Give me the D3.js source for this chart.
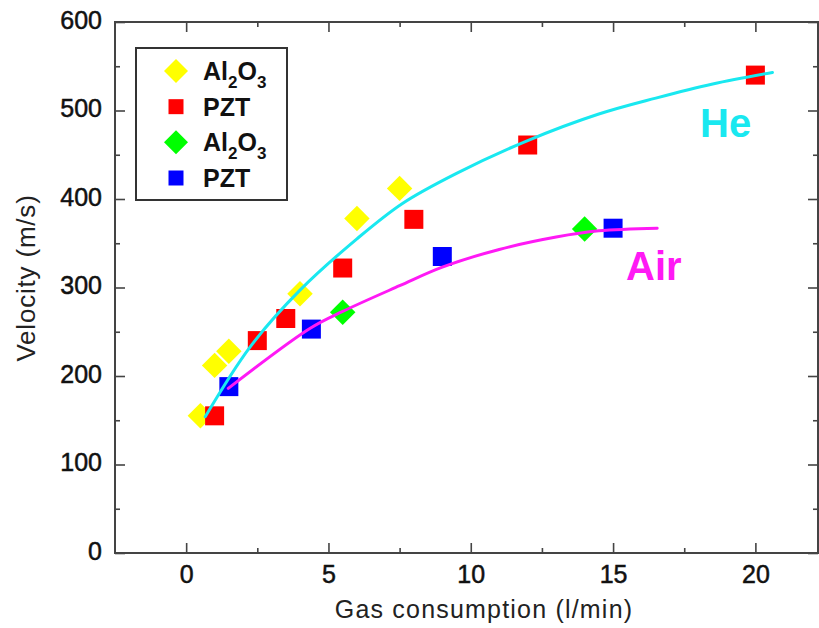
<!DOCTYPE html>
<html>
<head>
<meta charset="utf-8">
<script src="https://cdn.jsdelivr.net/npm/d3@7"></script>
<style>
  body { margin: 0; background: #fff; }
  text { font-family: "Liberation Sans", Arial, Helvetica, sans-serif; }
</style>
</head>
<body>
<svg id="chart"></svg>
<script>
// measured points [gas consumption l/min, velocity m/s]
var al2o3He = [[0.5, 155], [1, 212], [1.5, 228], [4, 293], [6, 378], [7.5, 412]];
var pztHe = [[1, 155], [2.5, 240], [3.5, 265], [5.5, 322], [8, 377], [12, 461], [20, 540]];
var al2o3Air = [[5.5, 272], [14, 366]];
var pztAir = [[1.5, 188], [4.4, 253], [9, 335], [15, 367]];

// fitted curves
var heFit = [[0.67, 154], [2.25, 233], [4, 297], [6, 355], [7.6, 395], [9.5, 429], [12, 466], [14.5, 496], [16.5, 514], [18.5, 530], [20.6, 543]];
var airFit = [[1.48, 186], [4.36, 254], [5.5, 273], [7.5, 302], [9, 323], [11, 343], [13, 357], [14.5, 364], [16.55, 367]];

var xTicks = [0, 5, 10, 15, 20];
var xMinor = [2.5, 7.5, 12.5, 17.5];
var yTicks = [0, 100, 200, 300, 400, 500, 600];
var yMinor = [50, 150, 250, 350, 450, 550];

var legendLabels = ["Al2O3", "PZT", "Al2O3", "PZT"];
var legendColors = ["#ffff00", "#ff0000", "#00ff00", "#0000ff"];
var legendShapes = ["diamond", "square", "diamond", "square"];

var svgWidth = 819, svgHeight = 628;
var plotLeft = 115, plotRight = 818, plotTop = 22, plotBottom = 553;

var svg = d3.select("#chart")
    .attr("width", svgWidth)
    .attr("height", svgHeight);

var x = d3.scaleLinear().domain([-2.5, 22.2]).range([plotLeft, plotRight]);
var y = d3.scaleLinear().domain([0, 600]).range([plotBottom, plotTop]);

var axisColor = "#444";

function styleAxis(g) {
    g.select(".domain").remove();
    g.selectAll(".tick line").attr("stroke", axisColor).attr("stroke-width", 1.6);
}

function styleLabels(sel) {
    sel.attr("font-size", 25)
        .attr("font-family", "Liberation Sans, Arial, sans-serif")
        .attr("fill", "#111")
        .attr("stroke", "#111")
        .attr("stroke-width", 0.5);
}

// major + minor ticks, all pointing inward, on the four sides
svg.append("g")
    .attr("transform", "translate(0," + plotBottom + ")")
    .call(d3.axisBottom(x).tickValues(xTicks).tickSize(-10).tickPadding(12).tickFormat(d3.format("d")))
    .call(styleAxis)
    .selectAll("text")
    .call(styleLabels);
svg.append("g")
    .attr("transform", "translate(0," + plotBottom + ")")
    .call(d3.axisBottom(x).tickValues(xMinor).tickSize(-5).tickFormat(""))
    .call(styleAxis);
svg.append("g")
    .attr("transform", "translate(0," + plotTop + ")")
    .call(d3.axisTop(x).tickValues(xTicks).tickSize(-10).tickFormat(""))
    .call(styleAxis);
svg.append("g")
    .attr("transform", "translate(0," + plotTop + ")")
    .call(d3.axisTop(x).tickValues(xMinor).tickSize(-5).tickFormat(""))
    .call(styleAxis);

svg.append("g")
    .attr("transform", "translate(" + plotLeft + ",0)")
    .call(d3.axisLeft(y).tickValues(yTicks).tickSize(-10).tickPadding(13).tickFormat(d3.format("d")))
    .call(styleAxis)
    .selectAll("text")
    .call(styleLabels)
    .attr("dy", "0.25em");
svg.append("g")
    .attr("transform", "translate(" + plotLeft + ",0)")
    .call(d3.axisLeft(y).tickValues(yMinor).tickSize(-5).tickFormat(""))
    .call(styleAxis);
svg.append("g")
    .attr("transform", "translate(" + plotRight + ",0)")
    .call(d3.axisRight(y).tickValues(yTicks).tickSize(-10).tickFormat(""))
    .call(styleAxis);
svg.append("g")
    .attr("transform", "translate(" + plotRight + ",0)")
    .call(d3.axisRight(y).tickValues(yMinor).tickSize(-5).tickFormat(""))
    .call(styleAxis);

// frame
svg.append("rect")
    .attr("x", plotLeft)
    .attr("y", plotTop)
    .attr("width", plotRight - plotLeft)
    .attr("height", plotBottom - plotTop)
    .attr("fill", "none")
    .attr("stroke", axisColor)
    .attr("stroke-width", 2);

// axis titles
svg.append("text")
    .attr("x", 484)
    .attr("y", 618)
    .attr("text-anchor", "middle")
    .attr("font-size", 25)
    .attr("letter-spacing", 1.2)
    .attr("fill", "#222")
    .text("Gas consumption (l/min)");

svg.append("text")
    .attr("transform", "translate(35,278) rotate(-90)")
    .attr("text-anchor", "middle")
    .attr("font-size", 26)
    .attr("letter-spacing", 0.8)
    .attr("fill", "#222")
    .text("Velocity (m/s)");

var diamond = d3.symbol().type(d3.symbolSquare).size(18 * 18)();
var square = d3.symbol().type(d3.symbolSquare).size(19 * 19)();

function drawPoints(data, color, shape) {
    svg.append("g")
        .selectAll("path")
        .data(data)
        .enter().append("path")
        .attr("d", shape == "diamond" ? diamond : square)
        .attr("transform", function(d) {
            return "translate(" + x(d[0]) + "," + y(d[1]) + ")" + (shape == "diamond" ? " rotate(45)" : "");
        })
        .attr("fill", color);
}

drawPoints(al2o3He, legendColors[0], "diamond");
drawPoints(pztHe, legendColors[1], "square");
drawPoints(al2o3Air, legendColors[2], "diamond");
drawPoints(pztAir, legendColors[3], "square");

var line = d3.line()
    .x(function(d) { return x(d[0]); })
    .y(function(d) { return y(d[1]); })
    .curve(d3.curveCatmullRom.alpha(0.5));

svg.append("path")
    .datum(heFit)
    .attr("fill", "none")
    .attr("stroke", "#19e8f0")
    .attr("stroke-width", 3)
    .attr("stroke-linecap", "round")
    .attr("d", line);

svg.append("path")
    .datum(airFit)
    .attr("fill", "none")
    .attr("stroke", "#ff19f5")
    .attr("stroke-width", 3)
    .attr("stroke-linecap", "round")
    .attr("d", line);

// curve labels
svg.append("text")
    .attr("x", 700)
    .attr("y", 137)
    .attr("font-size", 40)
    .attr("font-weight", "bold")
    .attr("fill", "#19e8f0")
    .text("He");

svg.append("text")
    .attr("x", 626)
    .attr("y", 280)
    .attr("font-size", 40)
    .attr("font-weight", "bold")
    .attr("fill", "#ff19f5")
    .text("Air");

// legend
var legend = svg.append("g");
legend.append("rect")
    .attr("x", 136)
    .attr("y", 48)
    .attr("width", 151)
    .attr("height", 152)
    .attr("fill", "#fff")
    .attr("stroke", "#333")
    .attr("stroke-width", 2);

var rowY = d3.scalePoint().domain(d3.range(legendLabels.length)).range([71, 178]);

legendLabels.forEach(function(label, i) {
    var cy = rowY(i);
    legend.append("path")
        .attr("d", legendShapes[i] == "diamond" ? d3.symbol().type(d3.symbolSquare).size(17 * 17)() : d3.symbol().type(d3.symbolSquare).size(15 * 15)())
        .attr("transform", "translate(176," + cy + ")" + (legendShapes[i] == "diamond" ? " rotate(45)" : ""))
        .attr("fill", legendColors[i]);

    var t = legend.append("text")
        .attr("x", 203)
        .attr("y", cy + 9)
        .attr("font-size", 25)
        .attr("font-weight", "bold")
        .attr("fill", "#111");
    // chemical formula: digits become subscripts
    var parts = label.match(/[A-Za-z]+|\d+/g);
    var low = false;
    parts.forEach(function(p) {
        var isNum = /\d/.test(p);
        var s = t.append("tspan").text(p);
        if (isNum) {
            s.attr("font-size", 17).attr("dy", low ? 0 : 8);
            low = true;
        } else {
            if (low) s.attr("dy", -8);
            low = false;
        }
    });
});
</script>
</body>
</html>
